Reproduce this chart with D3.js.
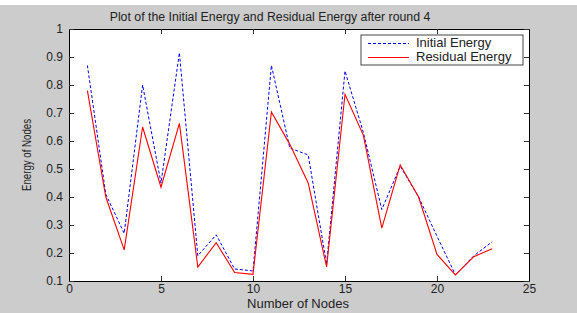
<!DOCTYPE html>
<html>
<head>
<meta charset="utf-8">
<script src="https://cdn.jsdelivr.net/npm/d3@7"></script>
<style>
  body { margin: 0; background: #fff; }
  svg { display: block; }
  text { font-family: "Liberation Sans", Arial, sans-serif; fill: #222; }
</style>
</head>
<body>
<div id="chart"></div>
<script>
// data
const nodes = d3.range(1, 24);
const initialEnergy = [0.87, 0.41, 0.27, 0.80, 0.45, 0.915, 0.19, 0.265, 0.143, 0.136,
  0.87, 0.575, 0.55, 0.16, 0.85, 0.63, 0.355, 0.51, 0.40, 0.26, 0.122, 0.19, 0.24];
const residualEnergy = [0.78, 0.40, 0.211, 0.65, 0.435, 0.663, 0.15, 0.237, 0.13, 0.124,
  0.704, 0.588, 0.45, 0.15, 0.767, 0.62, 0.289, 0.515, 0.40, 0.195, 0.122, 0.187, 0.215];
const xTicks = [0, 5, 10, 15, 20, 25];
const yTicks = [0.1, 0.2, 0.3, 0.4, 0.5, 0.6, 0.7, 0.8, 0.9, 1];

const width = 577, height = 313;
const margin = { top: 29, right: 48, bottom: 32, left: 69 };
const w = width - margin.left - margin.right;
const h = height - margin.top - margin.bottom;

const svg = d3.select("#chart").append("svg")
  .attr("width", width)
  .attr("height", height);

// gray figure background with a thin white strip on top
svg.append("rect").attr("width", width).attr("height", height).attr("fill", "#fff");
svg.append("rect").attr("y", 5).attr("width", width).attr("height", height - 5).attr("fill", "#cccccc");

const g = svg.append("g").attr("transform", `translate(${margin.left},${margin.top})`);

g.append("rect").attr("width", w).attr("height", h).attr("fill", "#fff");

const x = d3.scaleLinear().domain([0, 25]).range([0, w]);
const y = d3.scaleLinear().domain([0.1, 1]).range([h, 0]);

// axes, ticks pointing inward like matlab
const fmt = d => d === 1 ? "1" : d3.format(".1f")(d);
const styleAxis = sel => {
  sel.select(".domain").attr("stroke", "#333");
  sel.selectAll(".tick line").attr("stroke", "#333");
  sel.selectAll("text").attr("font-size", "12px").attr("fill", "#222");
};

g.append("g").attr("transform", `translate(0,${h})`)
  .call(d3.axisBottom(x).tickValues(xTicks).tickSize(-5).tickSizeOuter(0).tickPadding(3))
  .call(styleAxis);
g.append("g")
  .call(d3.axisTop(x).tickValues(xTicks).tickSize(-5).tickSizeOuter(0).tickFormat(""))
  .call(styleAxis);
g.append("g")
  .call(d3.axisLeft(y).tickValues(yTicks).tickSize(-5).tickSizeOuter(0).tickPadding(6).tickFormat(fmt))
  .call(styleAxis);
g.append("g").attr("transform", `translate(${w},0)`)
  .call(d3.axisRight(y).tickValues(yTicks).tickSize(-5).tickSizeOuter(0).tickFormat(""))
  .call(styleAxis);
g.selectAll(".domain").attr("stroke", "#000");

// lines
const line = d3.line().x((d, i) => x(nodes[i])).y(d => y(d));

g.append("path").datum(initialEnergy)
  .attr("d", line)
  .attr("fill", "none")
  .attr("stroke", "#0000ff")
  .attr("stroke-width", 1)
  .attr("stroke-dasharray", "3,2");

g.append("path").datum(residualEnergy)
  .attr("d", line)
  .attr("fill", "none")
  .attr("stroke", "#ff0000")
  .attr("stroke-width", 1.1);

// legend
const legend = svg.append("g").attr("transform", "translate(361,35)");
legend.append("rect").attr("width", 162).attr("height", 30)
  .attr("fill", "#fff").attr("stroke", "#444").attr("stroke-width", 1);
legend.append("line").attr("x1", 7).attr("x2", 48).attr("y1", 8.5).attr("y2", 8.5)
  .attr("stroke", "#0000ff").attr("stroke-dasharray", "3,2");
legend.append("line").attr("x1", 7).attr("x2", 48).attr("y1", 22.5).attr("y2", 22.5)
  .attr("stroke", "#ff0000");
legend.append("text").attr("x", 55).attr("y", 12).attr("font-size", "13px").text("Initial Energy");
legend.append("text").attr("x", 55).attr("y", 26).attr("font-size", "13px").text("Residual Energy");

// titles
svg.append("text")
  .attr("x", 270).attr("y", 21)
  .attr("text-anchor", "middle")
  .attr("font-size", "12.3px")
  .text("Plot of the Initial Energy and Residual Energy after round 4");

svg.append("text")
  .attr("x", 298).attr("y", 308)
  .attr("text-anchor", "middle")
  .attr("font-size", "13px")
  .text("Number of Nodes");

svg.append("text")
  .attr("transform", "translate(31,155) rotate(-90)")
  .attr("text-anchor", "middle")
  .attr("font-size", "12px")
  .attr("textLength", 72)
  .attr("lengthAdjust", "spacingAndGlyphs")
  .text("Energy of Nodes");
</script>
</body>
</html>
